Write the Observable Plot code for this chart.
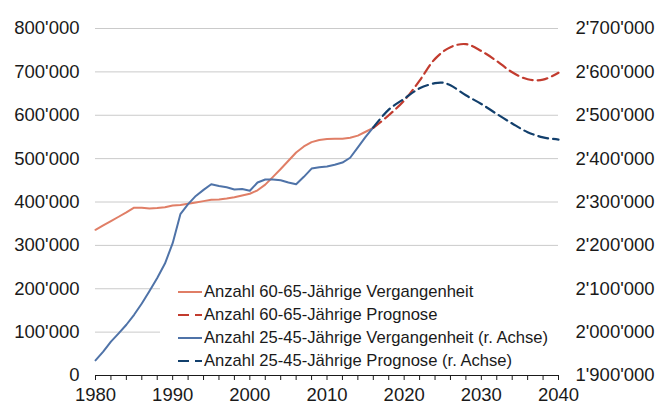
<!DOCTYPE html>
<html>
<head>
<meta charset="utf-8">
<script src="https://cdn.jsdelivr.net/npm/d3@7"></script>
<script src="https://cdn.jsdelivr.net/npm/@observablehq/plot@0.6"></script>
<style>
  html, body { margin: 0; padding: 0; background: #fff; }
  #wrap { position: relative; width: 669px; height: 405px; font-family: "Liberation Sans", Arial, Helvetica, sans-serif; color: #1a1a1a; }
  #legend { position: absolute; left: 160px; top: 276px; width: 398px; height: 98px; background: #fff; padding-top: 4px; box-sizing: border-box; }
  .row { height: 23px; display: flex; align-items: center; font-size: 16.6px; white-space: nowrap; }
  .row svg { margin-left: 18px; margin-right: 2px; flex: none; }
</style>
</head>
<body>
<div id="wrap"></div>
<script>
// ---- data ----
const years6065Past = [1980,1981,1982,1983,1984,1985,1986,1987,1988,1989,1990,1991,1992,1993,1994,1995,1996,1997,1998,1999,2000,2001,2002,2003,2004,2005,2006,2007,2008,2009,2010,2011,2012,2013,2014,2015,2016];
const values6065Past = [336000,346000,356000,366000,376000,387000,387000,385000,386000,388000,392000,393000,396000,399000,402000,405000,406000,408000,411000,415000,419000,427000,440000,458000,476000,495000,514000,528000,538000,543000,545000,546000,546000,548000,553000,562000,571000];

const years6065Prog = [2016,2018,2020,2022,2024,2026,2028,2030,2032,2034,2036,2038,2040];
const values6065Prog = [571000,600000,634000,680000,730000,757000,764000,748000,725000,699000,683000,682000,698000];

const years2545Past = years6065Past;
const values2545Past = [1935000,1955000,1978000,1997000,2017000,2040000,2066000,2095000,2125000,2158000,2205000,2272000,2295000,2314000,2328000,2341000,2337000,2334000,2329000,2330000,2326000,2345000,2352000,2352000,2350000,2345000,2341000,2358000,2377000,2380000,2382000,2386000,2391000,2402000,2426000,2450000,2472000];

const years2545Prog = [2016,2018,2020,2022,2024,2025,2026,2028,2030,2032,2034,2036,2038,2040];
const values2545Prog = [2472000,2513000,2538000,2562000,2574000,2575000,2569000,2546000,2526000,2503000,2481000,2461000,2449000,2444000];

const leftTicks = [0,100000,200000,300000,400000,500000,600000,700000,800000];
const rightTicks = [1900000,2000000,2100000,2200000,2300000,2400000,2500000,2600000,2700000];
const xLabelTicks = [1980,1990,2000,2010,2020,2030,2040];
const xMinorTicks = d3.range(1980, 2041, 2);

const seriesNames = [
  "Anzahl 60-65-Jährige Vergangenheit",
  "Anzahl 60-65-Jährige Prognose",
  "Anzahl 25-45-Jährige Vergangenheit (r. Achse)",
  "Anzahl 25-45-Jährige Prognose (r. Achse)"
];
const seriesColors = ["#E07E66", "#C23B2E", "#4F73A8", "#123F6C"];
const seriesDashed = [false, true, false, true];

// ---- build ----
const rightOffset = rightTicks[0];
const fmt = d3.formatLocale({decimal: ".", thousands: "'", grouping: [3], currency: ["", ""]}).format(",");
const toRows = (ys, vs, off = 0) => ys.map((y, i) => ({year: y, value: vs[i] - off}));

const d1 = toRows(years6065Past, values6065Past);
const d2 = toRows(years6065Prog, values6065Prog);
const d3r = toRows(years2545Past, values2545Past, rightOffset);
const d4 = toRows(years2545Prog, values2545Prog, rightOffset);
const rightPos = rightTicks.map(t => t - rightOffset);

const chart = Plot.plot({
  width: 669,
  height: 405,
  marginLeft: 95,
  marginRight: 111,
  marginTop: 28,
  marginBottom: 30,
  style: {fontFamily: "'Liberation Sans', Arial, Helvetica, sans-serif", fontSize: "18.5px", color: "#1a1a1a", background: "#fff", overflow: "visible"},
  x: {domain: [1980, 2040]},
  y: {domain: [0, 800000]},
  marks: [
    Plot.gridY(leftTicks, {stroke: "#cacaca", strokeOpacity: 1, strokeWidth: 1}),
    Plot.axisY(leftTicks, {anchor: "left", tickSize: 0, tickPadding: 16, tickFormat: fmt, label: null}),
    Plot.axisY(rightPos, {anchor: "right", tickSize: 0, tickPadding: 17, tickFormat: d => fmt(d + rightOffset), label: null}),
    Plot.axisX(xMinorTicks, {anchor: "bottom", tickSize: 5, tickPadding: 7, tickFormat: d => xLabelTicks.includes(d) ? String(d) : "", label: null, stroke: "#1a1a1a"}),
    Plot.ruleY([0], {stroke: "#1a1a1a", strokeWidth: 1}),
    Plot.line(d1, {x: "year", y: "value", stroke: seriesColors[0], strokeWidth: 2}),
    Plot.line(d3r, {x: "year", y: "value", stroke: seriesColors[2], strokeWidth: 2}),
    Plot.line(d2, {x: "year", y: "value", stroke: seriesColors[1], strokeWidth: 2.2, strokeDasharray: "10,5", curve: "catmull-rom"}),
    Plot.line(d4, {x: "year", y: "value", stroke: seriesColors[3], strokeWidth: 2.2, strokeDasharray: "10,5", curve: "catmull-rom"})
  ]
});

const wrap = document.getElementById("wrap");
wrap.appendChild(chart);

const legend = document.createElement("div");
legend.id = "legend";
seriesNames.forEach((name, i) => {
  const row = document.createElement("div");
  row.className = "row";
  const dash = seriesDashed[i] ? ' stroke-dasharray="11,6"' : '';
  row.innerHTML = `<svg width="24" height="6"><line x1="0" y1="3" x2="24" y2="3" stroke="${seriesColors[i]}" stroke-width="2"${dash}/></svg><span>${name}</span>`;
  legend.appendChild(row);
});
wrap.appendChild(legend);
</script>
</body>
</html>
